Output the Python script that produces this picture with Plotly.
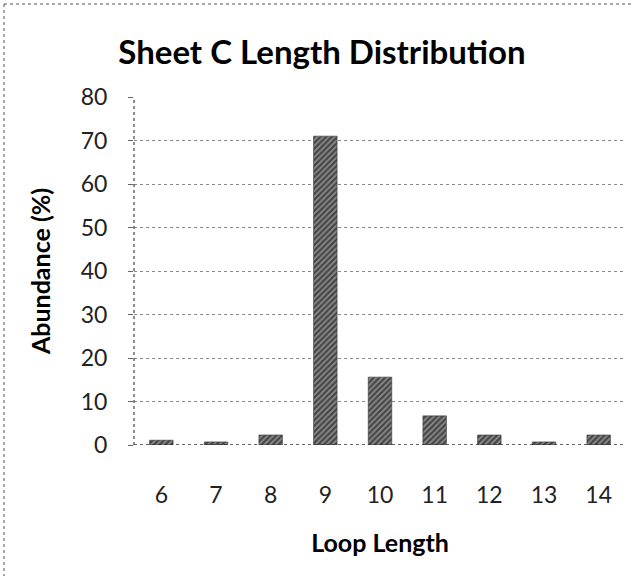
import plotly.graph_objects as go

loop_length = ["6", "7", "8", "9", "10", "11", "12", "13", "14"]
abundance = [1.1, 0.7, 2.3, 71.0, 15.6, 6.7, 2.3, 0.7, 2.3]
y_ticks = [0, 10, 20, 30, 40, 50, 60, 70, 80]

FONT = "Lato, 'Open Sans', sans-serif"
L, T, R, B = 134, 97, 632 - 626, 576 - 445
PW, PH = 632 - L - R, 576 - T - B

fig = go.Figure()
fig.add_trace(go.Bar(
    x=loop_length, y=abundance,
    marker=dict(
        color="#808080",
        line=dict(color="#333333", width=0.6),
        pattern=dict(shape="/", fgcolor="#000000", bgcolor="#8c8c8c", size=4, solidity=0.55),
    ),
    width=0.43,
))

fig.update_layout(
    width=632, height=576,
    margin=dict(l=L, r=R, t=T, b=B),
    paper_bgcolor="white", plot_bgcolor="white",
    showlegend=False,
    title=dict(text="<b>Sheet C Length Distribution</b>", x=322 / 632, xanchor="center",
               y=1 - 52 / 576, yanchor="middle",
               font=dict(family=FONT, size=33, color="black")),
    font=dict(family=FONT, color="black"),
    xaxis=dict(
        type="category", showgrid=False, zeroline=False,
        showline=False, ticks="", ticklabelstandoff=34,
        tickfont=dict(size=23, color="#222"),
        title=dict(text="<b>Loop Length</b>", font=dict(size=25), standoff=27),
    ),
    yaxis=dict(
        range=[0, 80], tickvals=y_ticks, showgrid=True,
        gridcolor="#8a8a8a", griddash="dot", gridwidth=1,
        zeroline=False, showline=False,
        ticks="outside", ticklen=5, tickcolor="#666666",
        ticklabelstandoff=16,
        tickfont=dict(size=23, color="#222"),
        title=dict(text="<b>Abundance (%)</b>", font=dict(size=25), standoff=22),
    ),
)

# dotted outer frame (top and left edges visible)
fig.add_shape(type="line", xref="paper", yref="paper",
              x0=(4 - L) / PW, x1=(640 - L) / PW, y0=(576 - B - 4) / PH, y1=(576 - B - 4) / PH,
              line=dict(color="#555555", width=1, dash="dot"))
fig.add_shape(type="line", xref="paper", yref="paper",
              x0=(4 - L) / PW, x1=(4 - L) / PW, y0=(576 - B - 4) / PH, y1=-1,
              line=dict(color="#555555", width=1, dash="dot"))
# dotted value axis line
fig.add_shape(type="line", xref="paper", yref="paper", x0=0, x1=0, y0=0, y1=1,
              line=dict(color="#444444", width=1.2, dash="dot"))
# dotted baseline at 0
fig.add_shape(type="line", xref="paper", yref="y", x0=0, x1=1, y0=0, y1=0,
              line=dict(color="#333333", width=1.5, dash="dot"))

fig.write_html("out.html", config={"displayModeBar": False},
               post_script="document.body.style.margin='0';")
